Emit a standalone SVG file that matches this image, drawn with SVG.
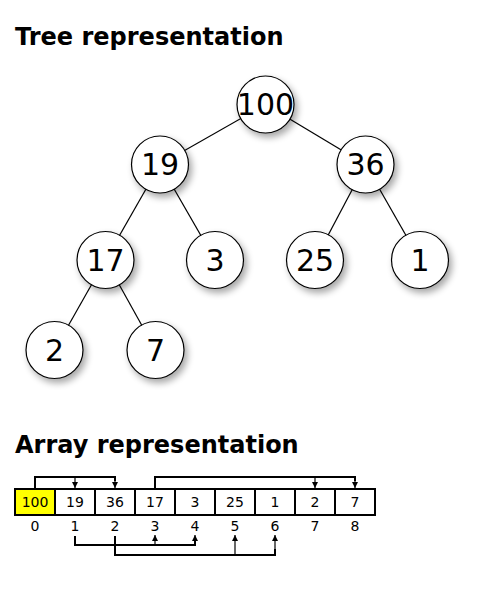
<svg xmlns="http://www.w3.org/2000/svg" width="500" height="600" viewBox="0 0 500 600">
<style>
.title{font-family:"DejaVu Sans",sans-serif;font-weight:bold;font-size:24px;fill:#000}
.node circle{fill:#fff;stroke:#000;stroke-width:1.2}
.node text{font-family:"DejaVu Sans",sans-serif;font-size:30px;text-anchor:middle;fill:#000}
.edge{stroke:#000;stroke-width:1.2;fill:none}
.cell{fill:#fff;stroke:#000;stroke-width:2}
.ctext{font-family:"DejaVu Sans",sans-serif;font-size:14px;text-anchor:middle;fill:#000}
.br{stroke:#000;stroke-width:2;fill:none}
.ar{stroke:#000;stroke-width:1.2;fill:none}
</style>
<defs>
<filter id="sh" x="-30%" y="-30%" width="170%" height="170%">
<feGaussianBlur in="SourceAlpha" stdDeviation="3.5"/>
<feOffset dx="3" dy="4" result="b"/>
<feComponentTransfer><feFuncA type="linear" slope="0.35"/></feComponentTransfer>
<feMerge><feMergeNode/><feMergeNode in="SourceGraphic"/></feMerge>
</filter>
<marker id="ah" viewBox="0 0 6 8" refX="6" refY="4" markerWidth="6" markerHeight="8" markerUnits="userSpaceOnUse" orient="auto">
<path d="M0,1 L6,4 L0,7 z" fill="#000"/>
</marker>
</defs>
<rect width="500" height="600" fill="#fff"/>
<text class="title" x="15" y="45">Tree representation</text>
<g id="edges">
<line class="edge" x1="265.5" y1="104.5" x2="160" y2="164.5"/>
<line class="edge" x1="265.5" y1="104.5" x2="365.5" y2="164.5"/>
<line class="edge" x1="160" y1="164.5" x2="105.5" y2="260"/>
<line class="edge" x1="160" y1="164.5" x2="215" y2="260"/>
<line class="edge" x1="365.5" y1="164.5" x2="315" y2="260"/>
<line class="edge" x1="365.5" y1="164.5" x2="420" y2="260"/>
<line class="edge" x1="105.5" y1="260" x2="54.5" y2="350"/>
<line class="edge" x1="105.5" y1="260" x2="155.5" y2="350"/>
</g>
<g id="n100" class="node"><circle cx="265.5" cy="104.5" r="28.5" filter="url(#sh)"/><text x="265.5" y="115">100</text></g>
<g id="n19" class="node"><circle cx="160" cy="164.5" r="28.5" filter="url(#sh)"/><text x="160" y="175">19</text></g>
<g id="n36" class="node"><circle cx="365.5" cy="164.5" r="28.5" filter="url(#sh)"/><text x="365.5" y="175">36</text></g>
<g id="n17" class="node"><circle cx="105.5" cy="260" r="28.5" filter="url(#sh)"/><text x="105.5" y="270.5">17</text></g>
<g id="n3" class="node"><circle cx="215" cy="260" r="28.5" filter="url(#sh)"/><text x="215" y="270.5">3</text></g>
<g id="n25" class="node"><circle cx="315" cy="260" r="28.5" filter="url(#sh)"/><text x="315" y="270.5">25</text></g>
<g id="n1" class="node"><circle cx="420" cy="260" r="28.5" filter="url(#sh)"/><text x="420" y="270.5">1</text></g>
<g id="n2" class="node"><circle cx="54.5" cy="350" r="28.5" filter="url(#sh)"/><text x="54.5" y="360.5">2</text></g>
<g id="n7" class="node"><circle cx="155.5" cy="350" r="28.5" filter="url(#sh)"/><text x="155.5" y="360.5">7</text></g>
<text class="title" x="15" y="453">Array representation</text>
<g id="array">
<rect class="cell" x="15" y="489" width="40" height="26" style="fill:#ffff00"/>
<rect class="cell" x="55" y="489" width="40" height="26"/>
<rect class="cell" x="95" y="489" width="40" height="26"/>
<rect class="cell" x="135" y="489" width="40" height="26"/>
<rect class="cell" x="175" y="489" width="40" height="26"/>
<rect class="cell" x="215" y="489" width="40" height="26"/>
<rect class="cell" x="255" y="489" width="40" height="26"/>
<rect class="cell" x="295" y="489" width="40" height="26"/>
<rect class="cell" x="335" y="489" width="40" height="26"/>
<text class="ctext" x="35" y="507">100</text>
<text class="ctext" x="75" y="507">19</text>
<text class="ctext" x="115" y="507">36</text>
<text class="ctext" x="155" y="507">17</text>
<text class="ctext" x="195" y="507">3</text>
<text class="ctext" x="235" y="507">25</text>
<text class="ctext" x="275" y="507">1</text>
<text class="ctext" x="315" y="507">2</text>
<text class="ctext" x="355" y="507">7</text>
<text class="ctext" x="35" y="531">0</text>
<text class="ctext" x="75" y="531">1</text>
<text class="ctext" x="115" y="531">2</text>
<text class="ctext" x="155" y="531">3</text>
<text class="ctext" x="195" y="531">4</text>
<text class="ctext" x="235" y="531">5</text>
<text class="ctext" x="275" y="531">6</text>
<text class="ctext" x="315" y="531">7</text>
<text class="ctext" x="355" y="531">8</text>
</g>
<g id="connectors">
<path class="br" d="M35,488 V477 H115 V481"/>
<line class="ar" x1="75" y1="477" x2="75" y2="488" marker-end="url(#ah)"/>
<line class="ar" x1="115" y1="477" x2="115" y2="488" marker-end="url(#ah)"/>
<path class="br" d="M155,488 V477 H355 V481"/>
<line class="ar" x1="315" y1="477" x2="315" y2="488" marker-end="url(#ah)"/>
<line class="ar" x1="355" y1="477" x2="355" y2="488" marker-end="url(#ah)"/>
<path class="br" d="M75,536 V545 H195 V541"/>
<line class="ar" x1="155" y1="545" x2="155" y2="535" marker-end="url(#ah)"/>
<line class="ar" x1="195" y1="545" x2="195" y2="535" marker-end="url(#ah)"/>
<path class="br" d="M115,536 V555 H275 V549"/>
<line class="ar" x1="235" y1="555" x2="235" y2="535" marker-end="url(#ah)"/>
<line class="ar" x1="275" y1="555" x2="275" y2="535" marker-end="url(#ah)"/>
</g>
</svg>
